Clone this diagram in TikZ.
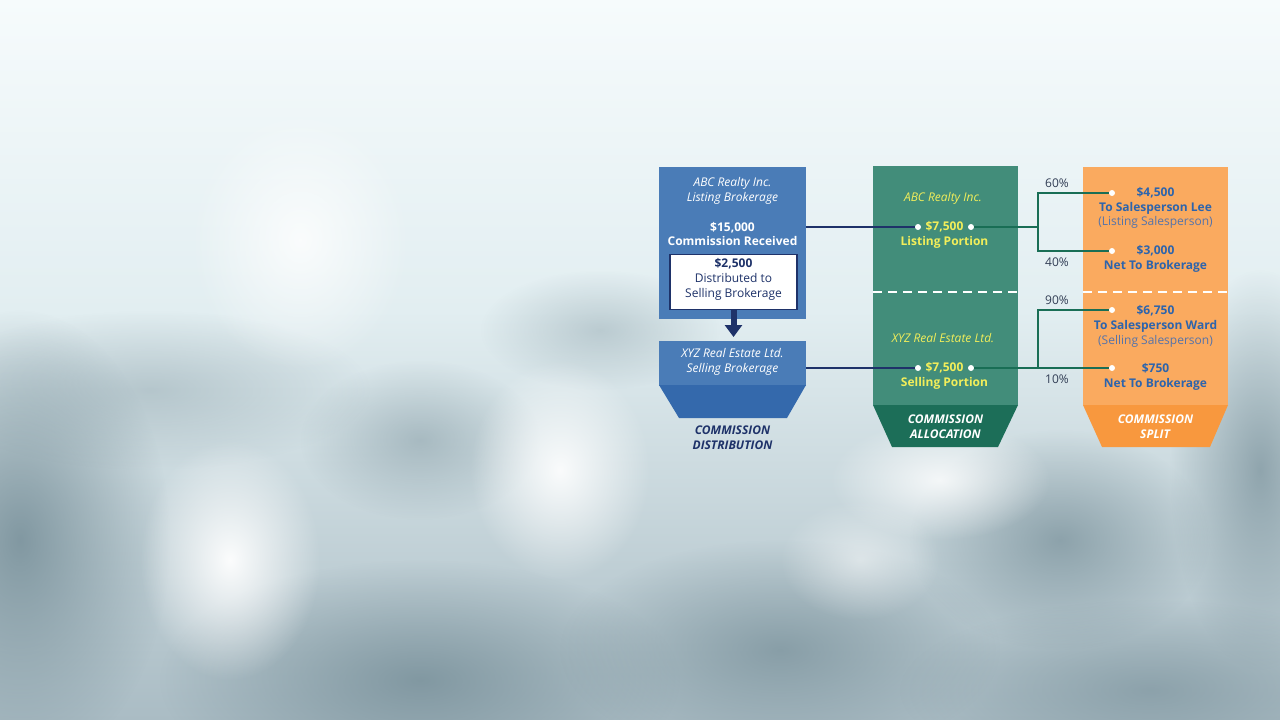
\documentclass[tikz,border=0pt]{standalone}
\usepackage{fontspec}
\setmainfont{Open Sans}
\usetikzlibrary{arrows.meta,fadings}
\definecolor{bluecol}{RGB}{74,124,183}
\definecolor{bluedark}{RGB}{52,105,172}
\definecolor{greencol}{RGB}{66,141,122}
\definecolor{greendark}{RGB}{28,110,88}
\definecolor{orangecol}{RGB}{250,170,95}
\definecolor{orangedark}{RGB}{248,152,62}
\definecolor{yel}{RGB}{242,238,90}
\definecolor{navy}{RGB}{30,50,105}
\definecolor{gline}{RGB}{25,110,85}
\definecolor{otext}{RGB}{45,100,172}
\definecolor{otext2}{RGB}{85,115,170}
\definecolor{pct}{RGB}{50,62,85}
\definecolor{bgtop}{RGB}{246,251,252}
\definecolor{bgmid}{RGB}{226,238,241}
\definecolor{bgbot}{RGB}{170,188,196}
\definecolor{haze}{RGB}{118,142,152}
\tikzfading[name=blobfade, inner color=transparent!0, outer color=transparent!100]
\tikzset{
  txt/.style={font=\fontsize{12}{14.8}\selectfont, align=center, inner sep=0pt},
  dot/.style={circle, fill=white, inner sep=0pt, minimum size=6pt},
  navyline/.style={draw=navy, line width=2pt},
  greenline/.style={draw=gline, line width=2pt},
  sepline/.style={draw=white, line width=1.3pt, dash pattern=on 9pt off 6pt},
  blob/.style={path fading=blobfade}
}
\begin{document}
\begin{tikzpicture}[x=1pt,y=-1pt]
\useasboundingbox (0,0) rectangle (1280,720);
% background
\fill[top color=bgtop, bottom color=bgmid] (0,0) rectangle (1280,310);
\fill[top color=bgmid, bottom color=bgbot] (0,310) rectangle (1280,720);
\fill[blob, color=haze, opacity=0.85] (20,540) ellipse (150 and 230);
\fill[blob, color=haze, opacity=0.35] (150,390) ellipse (220 and 80);
\fill[blob, color=haze, opacity=0.8] (420,680) ellipse (260 and 120);
\fill[blob, color=haze, opacity=0.45] (420,440) ellipse (120 and 80);
\fill[blob, color=haze, opacity=0.7] (780,650) ellipse (220 and 110);
\fill[blob, color=haze, opacity=0.7] (1060,540) ellipse (150 and 110);
\fill[blob, color=haze, opacity=0.7] (1260,470) ellipse (90 and 200);
\fill[blob, color=haze, opacity=0.6] (1150,690) ellipse (250 and 90);
\fill[blob, color=haze, opacity=0.35] (600,330) ellipse (120 and 60);
\fill[blob, color=white, opacity=0.95] (230,560) ellipse (90 and 120);
\fill[blob, color=white, opacity=0.9] (560,470) ellipse (90 and 110);
\fill[blob, color=white, opacity=0.8] (300,240) ellipse (110 and 130);
\fill[blob, color=white, opacity=0.8] (940,480) ellipse (110 and 60);
\fill[blob, color=white, opacity=0.5] (860,560) ellipse (80 and 60);

% ---- blue column
\fill[bluecol] (659,167) rectangle (806,319);
\node[draw=navy, line width=1.5pt, fill=white, minimum width=127pt, minimum height=55pt, inner sep=0pt] (dist) at (733.5,282) {};
\node[txt, text=navy] (disttxt) at (733.5,279.5) {\textbf{\$2,500}\\Distributed to\\Selling Brokerage};
\node[txt, text=white] (abcL) at (732.5,190.5) {\textit{ABC Realty Inc.}\\\textit{Listing Brokerage}};
\node[txt, text=white] (recv) at (732.5,234) {\textbf{\$15,000}\\\textbf{Commission Received}};
\fill[bluecol] (659,341) rectangle (806,386);
\fill[bluedark] (659,385) -- (806,385) -- (787,418) -- (679,418) -- cycle;
\node[txt, text=white] (xyzS) at (732.5,361.5) {\textit{XYZ Real Estate Ltd.}\\\textit{Selling Brokerage}};
\node[txt, text=navy] (lab1) at (732.5,437.5) {\textbf{\textit{COMMISSION}}\\\textbf{\textit{DISTRIBUTION}}};
\coordinate (arrS) at (733.5,310);
\coordinate (arrE) at (733.5,337);
\draw[navy, line width=6pt, -{Triangle[width=17pt,length=12pt]}] (arrS) -- (arrE);

% ---- green column
\fill[greencol] (873,166) rectangle (1018,405);
\fill[greendark] (873,405) -- (1018,405) -- (998,447) -- (892,447) -- cycle;
\coordinate (gsL) at (873,292);
\coordinate (gsR) at (1018,292);
\draw[sepline] (gsL) -- (gsR);
\node[txt, text=yel] (abcG) at (943,198.5) {\textit{ABC Realty Inc.}};
\node[txt, text=yel] (lp) at (944.5,235) {\textbf{\$7,500}\\\textbf{Listing Portion}};
\node[txt, text=yel] (xyzG) at (943,338.5) {\textit{XYZ Real Estate Ltd.}};
\node[txt, text=yel] (sp) at (944.5,375.5) {\textbf{\$7,500}\\\textbf{Selling Portion}};
\node[txt, text=white] (lab2) at (945.5,426.5) {\textbf{\textit{COMMISSION}}\\\textbf{\textit{ALLOCATION}}};

% ---- orange column
\fill[orangecol] (1083,167) rectangle (1228,405);
\fill[orangedark] (1083,405) -- (1228,405) -- (1210,447) -- (1102,447) -- cycle;
\coordinate (osL) at (1083,292);
\coordinate (osR) at (1228,292);
\draw[sepline] (osL) -- (osR);
\node[txt, text=otext] (lee) at (1155.5,208) {\textbf{\$4,500}\\\textbf{To Salesperson Lee}\\\textcolor{otext2}{(Listing Salesperson)}};
\node[txt, text=otext] (net1) at (1155.5,259) {\textbf{\$3,000}\\\textbf{Net To Brokerage}};
\node[txt, text=otext] (ward) at (1155.5,326.5) {\textbf{\$6,750}\\\textbf{To Salesperson Ward}\\\textcolor{otext2}{(Selling Salesperson)}};
\node[txt, text=otext] (net2) at (1155.5,377) {\textbf{\$750}\\\textbf{Net To Brokerage}};
\node[txt, text=white] (lab3) at (1155.5,426.5) {\textbf{\textit{COMMISSION}}\\\textbf{\textit{SPLIT}}};

% ---- percentages
\node[txt, text=pct] (p60) at (1057,183.5) {60\%};
\node[txt, text=pct] (p40) at (1057,262.5) {40\%};
\node[txt, text=pct] (p90) at (1057,300.5) {90\%};
\node[txt, text=pct] (p10) at (1057,379.5) {10\%};

% ---- connectors
\coordinate (bR1) at (806,227);
\coordinate (bR2) at (806,368);
\coordinate (j1) at (1038,227);
\coordinate (j1t) at (1038,193);
\coordinate (j1b) at (1038,251);
\coordinate (j2) at (1038,368);
\coordinate (j2t) at (1038,310);
\node[dot] (d1) at (918,227) {};
\node[dot] (d2) at (971,227) {};
\node[dot] (d3) at (918,368) {};
\node[dot] (d4) at (971,368) {};
\node[dot] (e1) at (1112,193) {};
\node[dot] (e2) at (1112,251) {};
\node[dot] (e3) at (1112,310) {};
\node[dot] (e4) at (1112,368) {};
\draw[navyline] (bR1) -- (d1.west);
\draw[navyline] (bR2) -- (d3.west);
\draw[greenline] (d2.east) -- (j1);
\draw[greenline, line join=miter] (e1.west) -- (j1t) -- (j1b) -- (e2.west);
\draw[greenline] (d4.east) -- (e4.west);
\draw[greenline, line join=miter] (e3.west) -- (j2t) -- (j2);
\end{tikzpicture}
\end{document}
